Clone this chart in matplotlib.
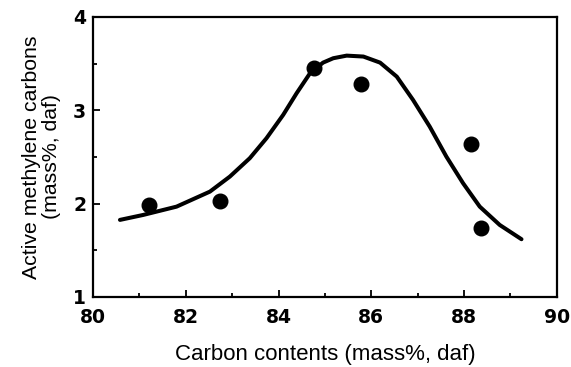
import matplotlib
matplotlib.use("Agg")
import matplotlib.pyplot as plt
from matplotlib.ticker import MultipleLocator

# Measured data points
carbon = [81.21, 82.74, 84.77, 85.78, 88.16, 88.36]
active_ch2 = [1.985, 2.03, 3.457, 3.28, 2.636, 1.742]

# Fitted curve
curve_x = [80.58, 81.08, 81.80, 82.52, 82.95, 83.38, 83.74, 84.10, 84.39, 84.68,
           84.96, 85.18, 85.47, 85.83, 86.19, 86.55, 86.90, 87.26, 87.62, 87.98,
           88.34, 88.77, 89.24]
curve_y = [1.825, 1.878, 1.967, 2.128, 2.289, 2.486, 2.700, 2.950, 3.182, 3.397,
           3.510, 3.557, 3.585, 3.575, 3.510, 3.360, 3.111, 2.825, 2.503, 2.218,
           1.967, 1.771, 1.618]

x_ticks = [80, 82, 84, 86, 88, 90]
y_ticks = [1, 2, 3, 4]

plt.rcParams['font.family'] = ['Liberation Sans', 'DejaVu Sans']

fig = plt.figure(figsize=(5.71, 3.67), dpi=100)
ax = fig.add_axes([0.163, 0.191, 0.812, 0.763])

ax.plot(curve_x, curve_y, color='black', lw=2.9, solid_joinstyle='round',
        solid_capstyle='round')
ax.plot(carbon, active_ch2, 'o', color='black', ms=10.5)

ax.set_xlim(80, 90)
ax.set_ylim(1, 4)
ax.set_xticks(x_ticks)
ax.set_yticks(y_ticks)
ax.xaxis.set_minor_locator(MultipleLocator(1))
ax.yaxis.set_minor_locator(MultipleLocator(0.5))
ax.tick_params(which='both', direction='in', width=1.3)
ax.tick_params(axis='x', pad=8)
ax.tick_params(axis='y', pad=5)
ax.tick_params(which='major', length=5)
ax.tick_params(which='minor', length=3)
for lbl in ax.get_xticklabels() + ax.get_yticklabels():
    lbl.set_fontweight('bold')
    lbl.set_family('DejaVu Sans')
    lbl.set_fontsize(13.5)
for s in ax.spines.values():
    s.set_linewidth(1.6)

ax.set_xlabel('Carbon contents (mass%, daf)', fontsize=16, labelpad=12)
ax.set_ylabel('Active methylene carbons\n(mass%, daf)', fontsize=15.3, labelpad=9,
              linespacing=1.05)

fig.savefig('out.png', dpi=100)
